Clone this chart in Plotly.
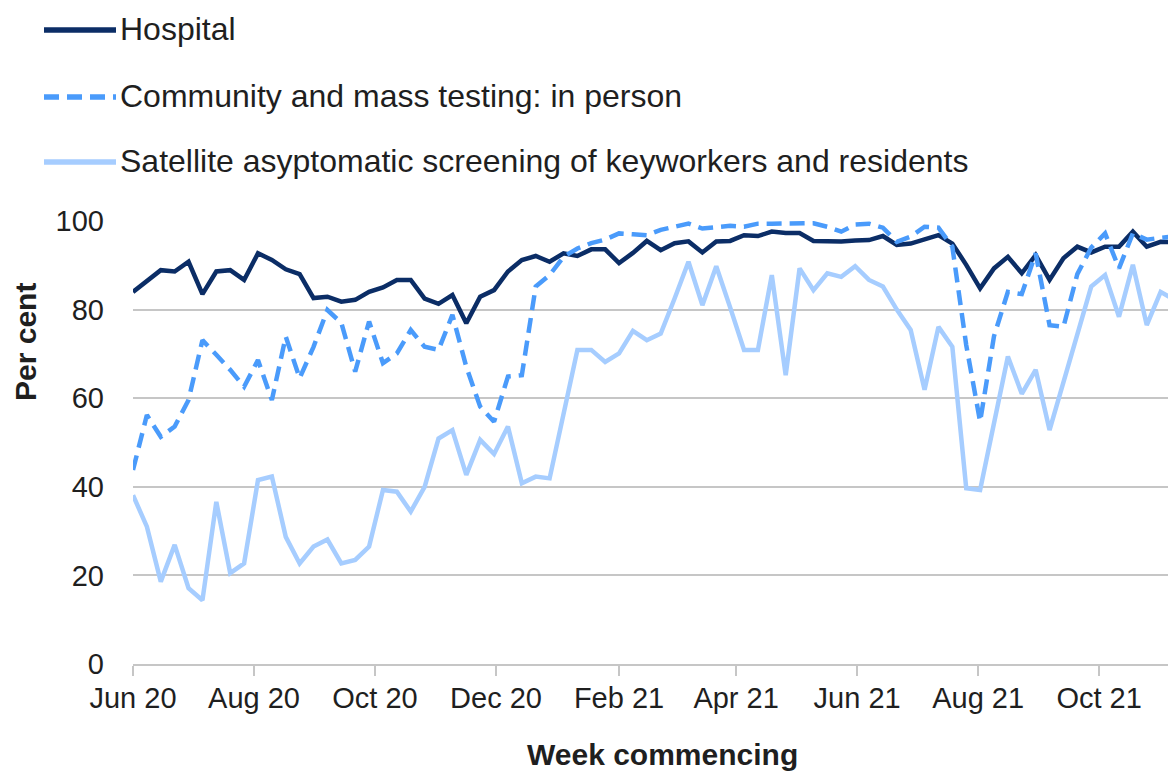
import pandas as pd
import plotly.graph_objects as go

# ---- data (weekly, week commencing from 1 June 2020) ----
week_start = "2020-06-01"
n_weeks = 76

hospital = [84.0, 86.3, 88.9, 88.6, 90.8, 83.5, 88.6, 88.9, 86.7, 92.7,
            91.2, 89.1, 88.0, 82.6, 82.9, 81.8, 82.2, 84.0, 85.0, 86.7,
            86.7, 82.5, 81.3, 83.3, 76.9, 82.9, 84.4, 88.6, 91.2, 92.1,
            90.8, 92.7, 92.1, 93.6, 93.6, 90.5, 92.8, 95.5, 93.4, 95.0,
            95.4, 92.9, 95.4, 95.5, 96.8, 96.6, 97.6, 97.3, 97.3, 95.5,
            95.4, 95.4, 95.6, 95.7, 96.6, 94.6, 94.9, 95.9, 96.8, 94.9,
            90.1, 84.8, 89.3, 91.9, 88.2, 92.3, 86.7, 91.6, 94.2, 92.9,
            94.2, 94.2, 97.6, 94.2, 95.3, 95.2]

community = [43.8, 56.2, 51.3, 53.6, 59.6, 73.1, 69.8, 66.4, 62.6, 68.6,
             59.6, 73.9, 64.5, 71.6, 79.9, 77.0, 66.0, 77.3, 67.9, 70.1,
             75.4, 71.6, 70.9, 78.8, 67.1, 58.1, 54.7, 64.9, 65.2, 85.2,
             87.8, 91.9, 93.8, 95.0, 95.8, 97.2, 97.0, 96.8, 98.0, 98.8,
             99.4, 98.3, 98.7, 98.9, 98.7, 99.4, 99.4, 99.4, 99.4, 99.5,
             98.7, 97.6, 99.2, 99.4, 98.5, 95.3, 96.5, 98.7, 98.5, 94.2,
             72.0, 54.7, 74.0, 84.0, 83.5, 92.7, 76.5, 76.1, 88.0, 94.0,
             97.2, 89.3, 97.2, 95.8, 96.2, 96.5]

satellite = [38.1, 31.0, 18.6, 26.9, 17.1, 14.4, 36.6, 20.5, 22.7, 41.5,
             42.3, 28.7, 22.7, 26.5, 28.1, 22.7, 23.5, 26.5, 39.3, 38.9,
             34.4, 40.0, 50.9, 52.8, 42.7, 50.6, 47.4, 53.6, 40.8, 42.3,
             41.9, 57.0, 70.9, 70.9, 68.2, 70.1, 75.2, 73.1, 74.6, 82.5,
             90.8, 81.0, 89.8, 80.5, 70.9, 70.9, 87.8, 65.2, 89.3, 84.4,
             88.2, 87.4, 89.8, 86.7, 85.2, 80.0, 75.4, 61.9, 76.1, 71.6,
             39.7, 39.3, 54.0, 69.4, 61.0, 66.4, 52.8, 63.5, 75.0, 85.2,
             87.8, 78.4, 90.1, 76.5, 84.0, 82.2]

series_names = ["Hospital",
                "Community and mass testing: in person",
                "Satellite asyptomatic screening of keyworkers and residents"]

tick_dates = ["2020-06-01", "2020-08-01", "2020-10-01", "2020-12-01",
              "2021-02-01", "2021-04-01", "2021-06-01", "2021-08-01",
              "2021-10-01"]
tick_labels = ["Jun 20", "Aug 20", "Oct 20", "Dec 20", "Feb 21",
               "Apr 21", "Jun 21", "Aug 21", "Oct 21"]
y_ticks = [0, 20, 40, 60, 80, 100]

dates = pd.date_range(week_start, periods=n_weeks, freq="7D")

# ---- styling ----
W, H = 1170, 772
PL, PR, PT, PB = 133, 1168, 221, 664   # plot area in page pixels
L, T = PL, PT
R = W - PR
B = H - PB
FONT = "Liberation Sans, Arial, sans-serif"
TXT = "#1f1f1f"
GRID = "#c6c6c6"
colors = ["#0b2d66", "#4a9bfb", "#a6cdff"]
dashes = ["solid", "15px,8px", "solid"]

fig = go.Figure()
for name, vals, col, dsh in zip(series_names, [hospital, community, satellite], colors, dashes):
    fig.add_trace(go.Scatter(x=dates, y=vals, mode="lines", name=name,
                             line=dict(color=col, width=4.5, dash=dsh),
                             showlegend=False))


def px_x(p):
    return (p - PL) / (PR - PL)


def px_y(p):
    return (PB - p) / (PB - PT)


# manual legend (long line samples as in the reference)
leg_y = [30, 97, 162]
for name, col, dsh, yy in zip(series_names, colors, dashes, leg_y):
    fig.add_shape(type="line", xref="paper", yref="paper",
                  x0=px_x(44), x1=px_x(116), y0=px_y(yy), y1=px_y(yy),
                  line=dict(color=col, width=5.5, dash=dsh))
    fig.add_annotation(text=name, xref="paper", yref="paper",
                       x=px_x(118), y=px_y(yy - 1), xanchor="left", yanchor="middle",
                       showarrow=False, font=dict(family=FONT, size=32, color=TXT))

# axis titles
fig.add_annotation(text="<b>Per cent</b>", xref="paper", yref="paper",
                   x=px_x(25), y=px_y(342), textangle=-90,
                   xanchor="center", yanchor="middle", showarrow=False,
                   font=dict(family=FONT, size=30, color=TXT))
fig.add_annotation(text="<b>Week commencing</b>", xref="paper", yref="paper",
                   x=px_x(662), y=px_y(754), xanchor="center", yanchor="middle",
                   showarrow=False, font=dict(family=FONT, size=30, color=TXT))

fig.update_layout(
    width=W, height=H,
    margin=dict(l=L, r=R, t=T, b=B, pad=0),
    paper_bgcolor="white", plot_bgcolor="white",
    font=dict(family=FONT, size=29, color=TXT),
    showlegend=False,
)
fig.update_xaxes(
    type="date", range=["2020-06-01", "2021-11-04 17:00"],
    tickvals=tick_dates, ticktext=tick_labels,
    showgrid=False, zeroline=False,
    showline=True, linecolor=GRID, linewidth=1.5,
    ticks="outside", ticklen=10, tickwidth=1.5, tickcolor=GRID,
    tickfont=dict(family=FONT, size=29, color=TXT),
    ticklabelstandoff=-3,
)
fig.update_yaxes(
    range=[0, 100], tickvals=y_ticks,
    showgrid=True, gridcolor=GRID, gridwidth=1.5,
    zeroline=False, showline=False, ticks="",
    tickfont=dict(family=FONT, size=29, color=TXT),
    ticklabelstandoff=28,
)

fig.write_html(
    "out.html",
    config={"displayModeBar": False},
    post_script="document.body.style.margin='0';document.body.style.overflow='hidden';",
)
